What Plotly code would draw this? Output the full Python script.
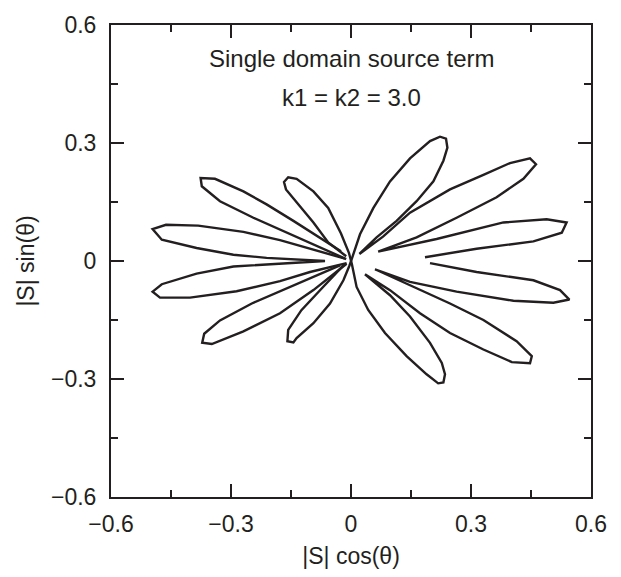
import plotly.graph_objects as go

# ---- data: |S| cos(theta), |S| sin(theta), per lobe chain ----
# chain A: right lobes (+10, +30, +55 deg) continuing through the origin into lower-left small lobe
chainA_x = [0.185, 0.314, 0.456, 0.527, 0.539, 0.489, 0.381, 0.214, 0.068,
            0.164, 0.264, 0.364, 0.431, 0.4625, 0.4475, 0.3975, 0.331, 0.2475, 0.1475, 0.08, 0.021,
            0.064, 0.114, 0.164, 0.206, 0.231, 0.241, 0.2375, 0.2225, 0.1975, 0.1475, 0.0975, 0.056, 0.0225, 0.002,
            -0.004, -0.019, -0.0525, -0.094, -0.136, -0.144, -0.159, -0.157, -0.124, -0.078, -0.019]
chainA_y = [0.0096, 0.031, 0.050, 0.072, 0.098, 0.106, 0.098, 0.056, 0.024,
            0.060, 0.110, 0.162, 0.209, 0.246, 0.261, 0.249, 0.219, 0.182, 0.123, 0.062, 0.018,
            0.060, 0.102, 0.152, 0.2025, 0.255, 0.288, 0.311, 0.316, 0.305, 0.261, 0.2025, 0.135, 0.068, 0.0055,
            -0.012, -0.049, -0.108, -0.158, -0.196, -0.207, -0.204, -0.175, -0.125, -0.075, -0.011]

# chain B: upper-left small lobe through the origin into lower-right lobes (-55, -30, -10 deg)
chainB_x = [-0.012, -0.057, -0.094, -0.136, -0.1625, -0.1675, -0.157, -0.136, -0.094, -0.057, -0.025, -0.005,
            0.002, 0.014, 0.043, 0.085, 0.139, 0.189, 0.218, 0.231, 0.235, 0.227, 0.1975, 0.1475, 0.0975, 0.035,
            0.0975, 0.1725, 0.2475, 0.331, 0.402, 0.4475, 0.452, 0.414, 0.331, 0.2475, 0.1475, 0.06,
            0.1475, 0.264, 0.406, 0.506, 0.546, 0.5225, 0.456, 0.314, 0.1975]
chainB_y = [0.012, 0.047, 0.098, 0.148, 0.182, 0.201, 0.213, 0.209, 0.177, 0.135, 0.070, 0.020,
            -0.007, -0.066, -0.1245, -0.183, -0.242, -0.288, -0.311, -0.309, -0.288, -0.259, -0.208, -0.141, -0.087, -0.034,
            -0.074, -0.133, -0.183, -0.225, -0.257, -0.260, -0.242, -0.204, -0.150, -0.108, -0.062, -0.021,
            -0.053, -0.078, -0.101, -0.106, -0.098, -0.074, -0.049, -0.028, -0.0055]

# chain C: the two lobes near +/-170 deg
chainC_x = [-0.015, -0.094, -0.1775, -0.269, -0.382, -0.4625, -0.496, -0.473, -0.386, -0.294, -0.211, -0.065,
            -0.211, -0.294, -0.386, -0.473, -0.496, -0.4775, -0.4025, -0.286, -0.1775, -0.1025, -0.011]
chainC_y = [0.006, 0.028, 0.053, 0.074, 0.090, 0.092, 0.081, 0.054, 0.033, 0.016, 0.008, 0.0,
            -0.008, -0.014, -0.032, -0.059, -0.078, -0.093, -0.093, -0.077, -0.051, -0.028, -0.0055]

# lobe near +150 deg
lobeD_x = [-0.012, -0.144, -0.244, -0.3275, -0.373, -0.376, -0.34, -0.269, -0.211, -0.144, -0.025]
lobeD_y = [0.005, 0.064, 0.110, 0.152, 0.190, 0.211, 0.209, 0.177, 0.144, 0.102, 0.025]

# lobe near -150 deg
lobeE_x = [-0.011, -0.094, -0.1775, -0.269, -0.348, -0.372, -0.367, -0.3275, -0.248, -0.15, -0.0275]
lobeE_y = [-0.007, -0.074, -0.133, -0.179, -0.211, -0.208, -0.185, -0.151, -0.108, -0.064, -0.011]

tick_vals = [-0.6, -0.3, 0, 0.3, 0.6]
tick_text = ["\u22120.6", "\u22120.3", "0", "0.3", "0.6"]

title_lines = ["Single domain source term", "k1 = k2 = 3.0"]

FONT = "Liberation Sans, Arial, Helvetica, sans-serif"
INK = "#231f20"

fig = go.Figure()
for xs, ys in [(chainA_x, chainA_y), (chainB_x, chainB_y), (chainC_x, chainC_y),
               (lobeD_x, lobeD_y), (lobeE_x, lobeE_y)]:
    fig.add_trace(go.Scatter(x=xs, y=ys, mode="lines",
                             line=dict(color=INK, width=2.4), showlegend=False,
                             hoverinfo="skip"))

axis_common = dict(
    range=[-0.6, 0.6], tickvals=tick_vals, ticktext=tick_text,
    ticks="inside", ticklen=13, tickwidth=1.5, tickcolor=INK,
    minor=dict(tickvals=[-0.45, -0.15, 0.15, 0.45], ticks="inside", ticklen=7,
               tickwidth=1.5, tickcolor=INK),
    showline=True, linecolor=INK, linewidth=2, mirror="allticks",
    showgrid=False, zeroline=False,
    tickfont=dict(family=FONT, size=23, color=INK),
)

fig.update_layout(
    width=621, height=577,
    margin=dict(l=111, r=30, t=22, b=78),
    paper_bgcolor="white", plot_bgcolor="white",
    xaxis=dict(**axis_common, ticklabelstandoff=5,
               title=dict(text="|S| cos(\u03b8)", font=dict(family=FONT, size=23, color=INK), standoff=12)),
    yaxis=dict(**axis_common, ticklabelstandoff=8,
               title=dict(text="|S| sin(\u03b8)", font=dict(family=FONT, size=23, color=INK), standoff=10)),
    annotations=[
        dict(x=0, y=0.514, xref="x", yref="y", text=title_lines[0], showarrow=False,
             font=dict(family=FONT, size=24, color=INK)),
        dict(x=0, y=0.416, xref="x", yref="y", text=title_lines[1], showarrow=False,
             font=dict(family=FONT, size=24, color=INK)),
    ],
)

fig.write_html("out.html")
